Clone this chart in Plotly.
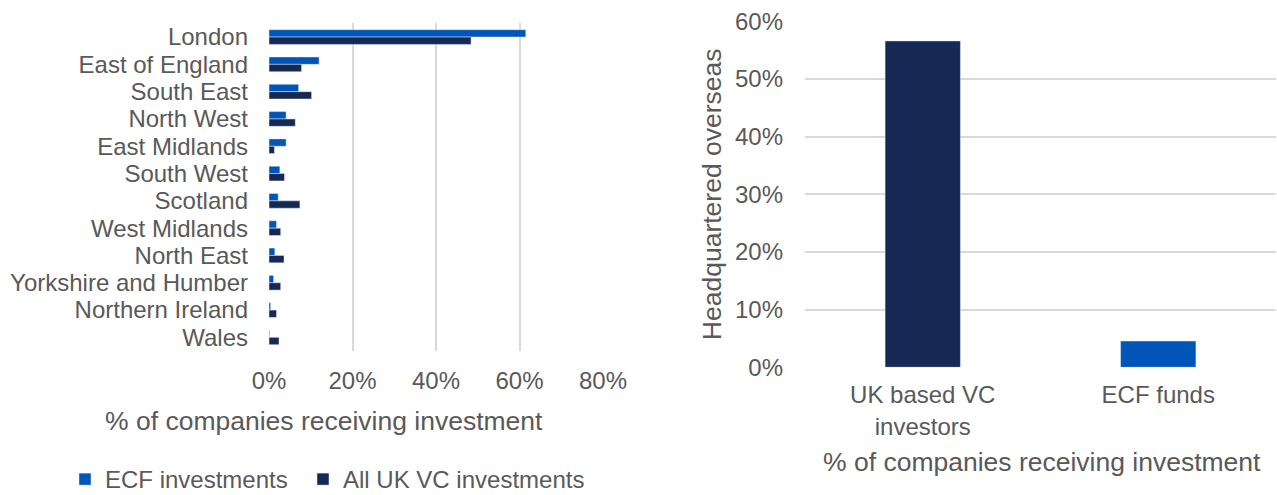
import plotly.graph_objects as go

# Regional split of companies receiving investment
regions = [
    "London", "East of England", "South East", "North West", "East Midlands",
    "South West", "Scotland", "West Midlands", "North East",
    "Yorkshire and Humber", "Northern Ireland", "Wales",
]
ecf_share = [0.615, 0.120, 0.071, 0.041, 0.041, 0.026, 0.022, 0.018, 0.014, 0.011, 0.004, 0.0015]
vc_share = [0.484, 0.078, 0.102, 0.063, 0.013, 0.037, 0.074, 0.028, 0.036, 0.028, 0.018, 0.024]

# Share of companies with investors headquartered overseas
investor_types = ["UK based VC<br>investors", "ECF funds"]
overseas_share = [0.566, 0.0456]

ECF_BLUE = "#0055B8"
VC_NAVY = "#162854"
TEXT = "#595959"
GRID = "#D9D9D9"
FONT = "Liberation Sans, Arial, sans-serif"

W, H = 1277, 495


def px_x(p):
    return p / W


def px_y(p):
    return 1 - p / H


fig = go.Figure()

fig.add_trace(go.Bar(
    y=regions, x=ecf_share, orientation="h", name="ECF investments",
    marker=dict(color=ECF_BLUE), xaxis="x", yaxis="y", legend="legend",
))
fig.add_trace(go.Bar(
    y=regions, x=vc_share, orientation="h", name="All UK VC investments",
    marker=dict(color=VC_NAVY), xaxis="x", yaxis="y", legend="legend2",
))

fig.add_trace(go.Bar(
    x=investor_types, y=overseas_share,
    marker=dict(color=[VC_NAVY, ECF_BLUE]),
    xaxis="x2", yaxis="y2", showlegend=False, width=0.32,
))

legend_style = dict(
    orientation="h", yanchor="bottom", xanchor="left",
    font=dict(size=24, color=TEXT), itemwidth=30,
    bgcolor="rgba(0,0,0,0)", borderwidth=0,
)

fig.update_layout(
    width=W, height=H,
    margin=dict(l=0, r=0, t=0, b=0, pad=0, autoexpand=False),
    paper_bgcolor="white", plot_bgcolor="white",
    font=dict(family=FONT, size=24, color=TEXT),
    barmode="group", bargap=0.46, bargroupgap=0,
    xaxis=dict(
        domain=[px_x(269), px_x(603)], range=[0, 0.8],
        tickvals=[0, 0.2, 0.4, 0.6, 0.8], tickformat=".0%",
        showgrid=True, gridcolor=GRID, gridwidth=1.5,
        zeroline=False, showline=False, ticks="",
        anchor="y", ticklabelstandoff=13, fixedrange=True,
    ),
    yaxis=dict(
        domain=[px_y(351), px_y(23.4)], autorange="reversed",
        tickmode="array", tickvals=regions,
        showgrid=False, zeroline=False, showline=False, ticks="",
        anchor="x", ticklabelstandoff=20, fixedrange=True,
    ),
    xaxis2=dict(
        domain=[px_x(805), px_x(1276)],
        showgrid=False, zeroline=False, showline=False, ticks="",
        anchor="y2", ticklabelstandoff=11, fixedrange=True,
    ),
    yaxis2=dict(
        domain=[px_y(367.3), px_y(21.3)], range=[0, 0.6],
        tickvals=[0, 0.1, 0.2, 0.3, 0.4, 0.5, 0.6], tickformat=".0%",
        showgrid=True, gridcolor=GRID, gridwidth=1.5,
        zeroline=False, showline=False, ticks="",
        anchor="x2", ticklabelstandoff=21, fixedrange=True,
        title=dict(text="Headquartered overseas", font=dict(size=26.5), standoff=5),
    ),
    legend=dict(x=px_x(65), y=-7 / H, **legend_style),
    legend2=dict(x=px_x(303), y=-7 / H, **legend_style),
    annotations=[
        dict(text="% of companies receiving investment", x=px_x(323.5), y=px_y(421),
             xref="paper", yref="paper", xanchor="center", yanchor="middle",
             showarrow=False, font=dict(size=26.5, color=TEXT)),
        dict(text="% of companies receiving investment", x=px_x(1042), y=px_y(462),
             xref="paper", yref="paper", xanchor="center", yanchor="middle",
             showarrow=False, font=dict(size=26.5, color=TEXT)),
    ],
)

fig.write_html("out.html")
